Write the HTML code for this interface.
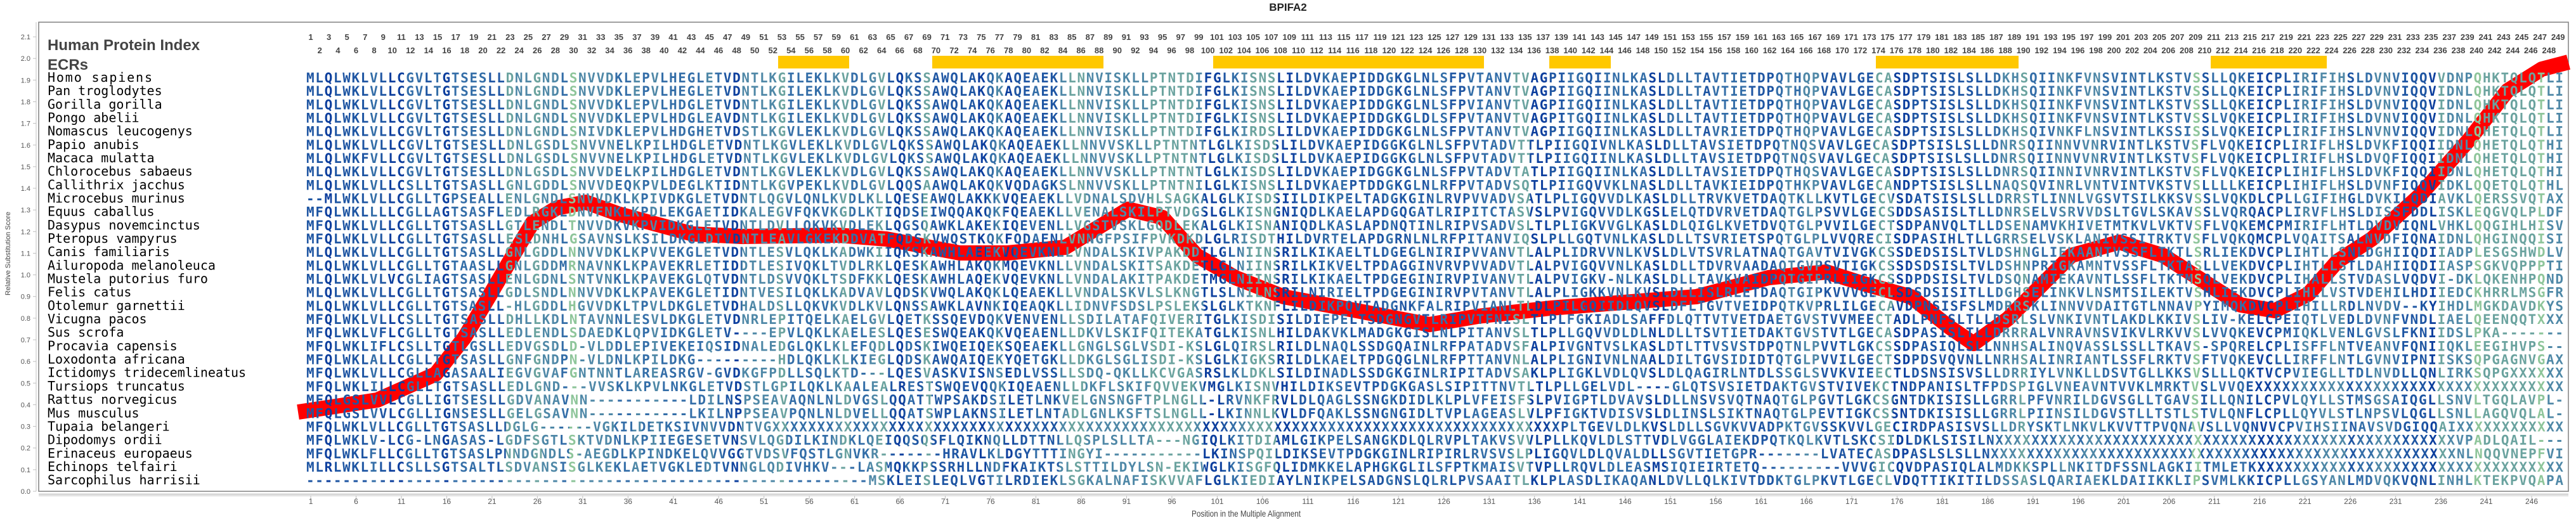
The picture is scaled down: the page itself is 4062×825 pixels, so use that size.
<!DOCTYPE html>
<html><head><meta charset="utf-8">
<style>
html,body{margin:0;padding:0;background:#fff;}
body{width:4062px;height:825px;overflow:hidden;position:relative;font-family:"Liberation Sans",sans-serif;}
.nr{position:absolute;display:flex;font:bold 13px "Liberation Sans",sans-serif;color:#444;white-space:nowrap;}
.nr span{text-align:center;flex:none;}
.o span{width:28.588px;}
.xl{position:absolute;top:784px;left:454.3px;display:flex;font:12px "Liberation Sans",sans-serif;color:#555;}
.xl span{width:71.47px;text-align:center;flex:none;}
svg{position:absolute;left:0;top:0;}
</style></head><body>
<svg width="4062" height="825" xmlns="http://www.w3.org/2000/svg">
<defs><linearGradient id="cg" gradientUnits="userSpaceOnUse" x1="483" y1="0" x2="4042" y2="0"></linearGradient></defs>
<text x="2031" y="17" text-anchor="middle" font-family="Liberation Sans" font-weight="bold" font-size="17" fill="#222">BPIFA2</text>
<rect x="61" y="35" width="3989" height="740" fill="none" stroke="#808080" stroke-width="1.5"/>
<line x1="57" y1="35" x2="57" y2="775" stroke="#c0c0c0" stroke-width="1"/>
<line x1="61" y1="779.5" x2="4050" y2="779.5" stroke="#c0c0c0" stroke-width="1.5"/>
<g stroke="#c0c0c0" stroke-width="1">
<line x1="52" x2="57" y1="775" y2="775"/><line x1="52" x2="57" y1="740.9" y2="740.9"/><line x1="52" x2="57" y1="706.7" y2="706.7"/><line x1="52" x2="57" y1="672.6" y2="672.6"/><line x1="52" x2="57" y1="638.4" y2="638.4"/><line x1="52" x2="57" y1="604.3" y2="604.3"/><line x1="52" x2="57" y1="570.2" y2="570.2"/><line x1="52" x2="57" y1="536" y2="536"/><line x1="52" x2="57" y1="501.9" y2="501.9"/><line x1="52" x2="57" y1="467.7" y2="467.7"/><line x1="52" x2="57" y1="433.6" y2="433.6"/><line x1="52" x2="57" y1="399.5" y2="399.5"/><line x1="52" x2="57" y1="365.3" y2="365.3"/><line x1="52" x2="57" y1="331.2" y2="331.2"/><line x1="52" x2="57" y1="297" y2="297"/><line x1="52" x2="57" y1="262.9" y2="262.9"/><line x1="52" x2="57" y1="228.8" y2="228.8"/><line x1="52" x2="57" y1="194.6" y2="194.6"/><line x1="52" x2="57" y1="160.5" y2="160.5"/><line x1="52" x2="57" y1="126.3" y2="126.3"/><line x1="52" x2="57" y1="92.2" y2="92.2"/><line x1="52" x2="57" y1="58.1" y2="58.1"/>
</g>
<line x1="61" y1="782" x2="4050" y2="782" stroke="#c0c0c0" stroke-width="1"/>
<g id="xt" stroke="#c0c0c0" stroke-width="1"></g>
<g font-family="Liberation Sans" font-size="11" fill="#555" text-anchor="end">
<text x="48" y="779">0.0</text><text x="48" y="744.9">0.1</text><text x="48" y="710.7">0.2</text><text x="48" y="676.6">0.3</text><text x="48" y="642.4">0.4</text><text x="48" y="608.3">0.5</text><text x="48" y="574.2">0.6</text><text x="48" y="540">0.7</text><text x="48" y="505.9">0.8</text><text x="48" y="471.7">0.9</text><text x="48" y="437.6">1.0</text><text x="48" y="403.5">1.1</text><text x="48" y="369.3">1.2</text><text x="48" y="335.2">1.3</text><text x="48" y="301">1.4</text><text x="48" y="266.9">1.5</text><text x="48" y="232.8">1.6</text><text x="48" y="198.6">1.7</text><text x="48" y="164.5">1.8</text><text x="48" y="130.3">1.9</text><text x="48" y="96.2">2.0</text><text x="48" y="62.1">2.1</text>
</g>
<text transform="translate(16,400) rotate(-90)" text-anchor="middle" font-family="Liberation Sans" font-size="11" fill="#444">Relative Substitution Score</text>
<text x="1965" y="815" text-anchor="middle" font-family="Liberation Sans" font-size="14" fill="#444" textLength="172" lengthAdjust="spacingAndGlyphs">Position in the Multiple Alignment</text>
<g fill="#ffc800">
<rect x="1227" y="88" width="112" height="20"/><rect x="1470" y="88" width="270" height="20"/><rect x="1913" y="88" width="427" height="20"/><rect x="2443" y="88" width="97" height="20"/><rect x="2958" y="88" width="225" height="20"/><rect x="3486" y="88" width="183" height="20"/>
</g>
<text x="75" y="79" font-family="Liberation Sans" font-weight="bold" font-size="24" fill="#444">Human Protein Index</text>
<text x="75" y="110" font-family="Liberation Sans" font-weight="bold" font-size="24" fill="#444">ECRs</text>
<polyline fill="none" stroke="#ff0000" stroke-width="24" stroke-linejoin="round" stroke-linecap="butt" points="470,650 595,631 687,590 732,533 771,468 809,403 840,351 878,328 924,319 977,338 1092,369 1169,373 1322,371 1398,377 1513,399 1589,399 1680,390 1779,330 1833,343 1887,403 1948,438 2024,468 2139,490 2254,512 2330,499 2445,486 2560,477 2675,468 2789,438 2880,429 2937,447 3013,468 3074,516 3112,542 3166,503 3266,403 3342,382 3411,403 3472,442 3533,481 3587,490 3640,464 3686,412 3740,377 3816,308 3893,221 3954,143 4008,109 4050,98"/>
<g font-family="DejaVu Sans Mono" font-size="20" fill="#000">
<text x="75" y="129" textLength="165" lengthAdjust="spacing">Homo sapiens</text>
<text x="75" y="150.2">Pan troglodytes</text>
<text x="75" y="171.3">Gorilla gorilla</text>
<text x="75" y="192.5">Pongo abelii</text>
<text x="75" y="213.7">Nomascus leucogenys</text>
<text x="75" y="234.9">Papio anubis</text>
<text x="75" y="256">Macaca mulatta</text>
<text x="75" y="277.2">Chlorocebus sabaeus</text>
<text x="75" y="298.4">Callithrix jacchus</text>
<text x="75" y="319.5">Microcebus murinus</text>
<text x="75" y="340.7">Equus caballus</text>
<text x="75" y="361.9">Dasypus novemcinctus</text>
<text x="75" y="383">Pteropus vampyrus</text>
<text x="75" y="404.2">Canis familiaris</text>
<text x="75" y="425.4">Ailuropoda melanoleuca</text>
<text x="75" y="446.6">Mustela putorius furo</text>
<text x="75" y="467.7">Felis catus</text>
<text x="75" y="488.9">Otolemur garnettii</text>
<text x="75" y="510.1">Vicugna pacos</text>
<text x="75" y="531.2">Sus scrofa</text>
<text x="75" y="552.4">Procavia capensis</text>
<text x="75" y="573.6">Loxodonta africana</text>
<text x="75" y="594.7">Ictidomys tridecemlineatus</text>
<text x="75" y="615.9">Tursiops truncatus</text>
<text x="75" y="637.1">Rattus norvegicus</text>
<text x="75" y="658.3">Mus musculus</text>
<text x="75" y="679.4">Tupaia belangeri</text>
<text x="75" y="700.6">Dipodomys ordii</text>
<text x="75" y="721.8">Erinaceus europaeus</text>
<text x="75" y="742.9">Echinops telfairi</text>
<text x="75" y="764.1">Sarcophilus harrisii</text>
</g>
<g id="seq" font-family="DejaVu Sans Mono" font-weight="bold" font-size="21" fill="#2d64a6">
<text x="483" y="130" textLength="3559" lengthAdjust="spacing">MLQLWKLVLLCGVLTGTSESLLDNLGNDLSNVVDKLEPVLHEGLETVDNTLKGILEKLKVDLGVLQKSSAWQLAKQKAQEAEKLLNNVISKLLPTNTDIFGLKISNSLILDVKAEPIDDGKGLNLSFPVTANVTVAGPIIGQIINLKASLDLLTAVTIETDPQTHQPVAVLGECASDPTSISLSLLDKHSQIINKFVNSVINTLKSTVSSLLQKEICPLIRIFIHSLDVNVIQQVVDNPQHKTQLQTLI</text>
<text x="483" y="151.2" textLength="3559" lengthAdjust="spacing">MLQLWKLVLLCGVLTGTSESLLDNLGNDLSNVVDKLEPVLHEGLETVDNTLKGILEKLKVDLGVLQKSSAWQLAKQKAQEAEKLLNNVISKLLPTNTDIFGLKISNSLILDVKAEPIDDGKGLNLSFPVTANVTVAGPIIGQIINLKASLDLLTAVTIETDPQTHQPVAVLGECASDPTSISLSLLDKHSQIINKFVNSVINTLKSTVSSLLQKEICPLIRIFIHSLDVNVIQQVIDNLQHKTQLQTLI</text>
<text x="483" y="172.3" textLength="3559" lengthAdjust="spacing">MLQLWKLVLLCGVLTGTSESLLDNLGNDLSNVVDKLEPVLHDGLETVDNTLKGILEKLKVDLGVLQKSSAWQLAKQKAQEAEKLLNNVISKLLPTNTDIFGLKISNSLILDVKAEPIDDGKGLNLSFPVIANVTVAGPIIGQIINLKASLDLLTAVTIETDPQTHQPVAVLGECASDPTSISLSLLDKHSQIINKFVNSVINTLKSTVSSLLQKEICPLIRIFIHSLDVNVIQQVIDNLQHKTQLQTLI</text>
<text x="483" y="193.5" textLength="3559" lengthAdjust="spacing">MLQLWKLVLLCGVLTGTSESLLDNLGNDLSNVVDKLEPVLHDGLEAVDNTLKGILEKLKVDLGVLQKSSAWQLAKQKAQEAEKLLNNVISKLLPTNTDIFGLKISNSLILDVKAEPIDDGKGLDLSFPVTANVTVAGPITGQIINLKASLDLLTAVTIETDPQTHQPVAVLGECASDPTSISLSLLDKHSQIINKFVNSVINTLKSTVSSLVQKEICPLIRIFIHSLDVNVIQQVIDNLQHKTQLQTLI</text>
<text x="483" y="214.7" textLength="3559" lengthAdjust="spacing">MLQLWKLVLLCGVLTGTSESLLDNLGNDLSNIVDKLEPVLHDGHETVDSTLKGVLEKLKVDLGVLQKSSAWQLAKQKAQEAEKLLNNVISKLLPTNTDIFGLKIRDSLILDVKAEPIDDGKGLNLSFPVTANVTVAGPIIGQIINLKASLDLLTAVRIETDPQTHQPVAVLGECASDPTSISLSLLDKHSQIVNKFLNSVINTLKSSISSLVQKEICPLIRIFIHSLNVNVIQQVIDNLQHETQLQTLI</text>
<text x="483" y="235.9" textLength="3559" lengthAdjust="spacing">MLQLWKLVLLCGVLTGTSESLLDNLGSDLSNVVNELKPILHDGLETVDNTLKGVLEKLKVDLGVLQKSSAWQLAKQKAQEAEKLLNNVVSKLLPTNTNTLGLKISDSLILDVKAEPIDGGKGLNLSFPVTADVTTLPIIGQIVNLKASLDLLTAVSIETDPQTNQSVAVLGECASDPTSISLSLLDNRSQIINNVVNRVINTLKSTVSFLVQKEICPLIRIFLHSLDVKFIQQIIDNLQHETQLQTHI</text>
<text x="483" y="257" textLength="3559" lengthAdjust="spacing">MLQLWKFVLLCGVLTGTSESLLDNLGSDLSNVVNELKPILHDGLETVDNTLKGVLEKLKVDLGVLQKSSAWQLAKQKAQEAEKLLNNVVSKLLPTNTNTLGLKISDSLILDVKAEPIDGGKGLNLSFPVTADVTTLPIIGQIINLKASLDLLTAVSIETDPQTNQSVAVLGECASDPTSISLSLLDNRSQIINNVVNRVINTLKSTVSFLVQKEICPLIRIFLHSLDVQFIQQIIDNLQHETQLQTHI</text>
<text x="483" y="278.2" textLength="3559" lengthAdjust="spacing">MLQLWKLVLLCGVLTGTSESLLDNLGSDLSNVVDELKPILHDGLETVDNTLKGVLEKLKVDLGVLQKSSAWQLAKQKAQEAEKLLNNVVSKLLPTNTNTLGLKISDSLILDVKAEPIDGGKGLNLSFPVTADVTATLPIIGQIINLKASLDLLTAVSIETDPQTHQSVAVLGECASDPTSISLSLLDNRSQIINNIVNRVINTLKSTVSFLVQKEICPLIHIFLHSLDVKFIQQIIDNLQHETQLQTHI</text>
<text x="483" y="299.4" textLength="3559" lengthAdjust="spacing">MLQLWKLVLLCSLLTGTSASLLGNLGDDLSNVVDEQKPVLDEGLKTIDNTLKGVPEKLKVDLGVLQQSAAWQLAKQKVQDAGKSLNNVVSKLLPTNTNILGLKISNSLILDVKAEPTDDGKGLNLRFPVTADVSQTLPIIGQVVKLNASLDLLTAVKIEIDPQTHKPVAVLGECANDPTSISLSLLNAQSQVINRLVNTVINTVKSTVSLLLLKEICPLIHIFLHSLDVNFIQQVIDKLQQETQLQTHL</text>
<text x="483" y="320.5" textLength="3559" lengthAdjust="spacing">--MLWKLVLLCGLLTGPSEALLENLGNDLSNVVDKLKPIVDKGLETVDNTLQGVLQNLKVDLKLLQESEAWQLAKKKVQEAEKLLVDNALSDVHLSAGKALGLKISDSIILDIKPELTADGKGINLRVPVVADVSATLPLIGQVVDLKASLDLLTRVKVETDAQTKLLKVTLGECVSDATSISLSLLDRRSTLINNLVGSVTSILKKSVSSLVQKDLCPLLGIFIHGLDVKILQDIAVKLQERSSVQTAX</text>
<text x="483" y="341.7" textLength="3559" lengthAdjust="spacing">MFQLWKLLLLCGLLAGTSASFLEDLRGKLDNVFNKLKPDLEKGAETIDKALEGVFQKVKGDLKTIQDSEIWQQAKQKFQEAEKLLVENALSKILPTVDGSLGLKISNGNIQDLKAELAPDGQGATLRIPITCTASVSLPVIGQVVDLKGSLELQTDVRVETDAQTGLPSVVLGECSDDSASISLTLLDNRSELVSRVVDSLTGVLSKAVSSLVQRQACPLIRVFLHSLDISSFDDLISKLEQGVQLPLDF</text>
<text x="483" y="362.9" textLength="3559" lengthAdjust="spacing">MFQLWKLVLLCGLLTGTSASLLGTLENDLTNVVDKVKPVIDKGLETVDNTLDVLLQKVKVDLEKLQGSQAWKLAKEKIQEVENLLVGSTVSKLGQDLEKALGLKISNANIQDLKASLAPDNQTINLRIPVSADVSLTLPLIGKVVGLKASLDLQIGLKVETDVQTGLPVVILGECTSDPANVQLTLLDSENAMVKHIVETMTKVLVKTVSFLVQKEMCPMIRIFLHTLDVDVIQNLVHKLQQGIHLHISV</text>
<text x="483" y="384" textLength="3559" lengthAdjust="spacing">MFQLWKLVLLCGLLTGTSASLLESLDNHLGSAVNSLKSILDKGLDTVDNTLEAVLGKEKDDVATFQDSKVWQSTKQKFQDAENLVNNGFPSIFPVKDKDLGLRISDTHILDVRTELAPDGRNLNLRFPITANVIQSLPLLGQTVNLKASLDLLTSVRIETSPQTGLPLVVQRECISDPASIHLTLLGRRSELVSKLANIVSSITRKTVSFLVQKQMCPLVQAITSALNVDFIQNAIDNLQHGINQQISI</text>
<text x="483" y="405.2" textLength="3559" lengthAdjust="spacing">MLQLWKLVLLCGLLTGTSASLLGNLGDDLNNVVDKLKPVVEKGLETVDNTLESVLQKLKADWKIIQKSKAWHLAEEKVQEVKNLLVNDALSKIVPAKDDTLGLNIINSRILKIKAELTLDGEGLNIRIPVVANVTLALPLIDRVVNLKVSLDLVTSVRLATNAQTGAVTVIVGKCSSDEDSISLTVLDSHNGLIEKAANTVSSFLTKTLSRLIEKDVCPLIHTLLSNLDGHIIQDIIADPLESGSHWDLV</text>
<text x="483" y="426.4" textLength="3559" lengthAdjust="spacing">MLQLWKLVLLCGLLTGTAASLLGNLGDDMRNAVNKLKPAVEKRLETIDDTLESIVQKLTVDLRKLQESKAWHLAKQKMQEVKNLLVNDALSKITSAKDETLGLNIINSRILKIKVELTPDAGGINVRVPVVADVTLALPVIGQVVNLKASLDLLTDVRVAADAQTGVPSVTIGKCSSDSDSISLTVLDSHNPRIGKAMNTVSSFLTKTASLLVEKDVCPLIHTLLSTLDAHIIQDIIASPSGKVQPPPTI</text>
<text x="483" y="447.6" textLength="3559" lengthAdjust="spacing">MLQLWKLVLVCGLIAGTSASLLENLGDNLSNTVNKLKPAVEKGLQTVDNTLDSVVQKLTSDFKKLQESKAWHLAQEKVQEVKNLLVNDALAKITPAKDETMGLNIINSRILKIKAELTPDGEGINIRVPIVANVTLALPVIGKV-NLKASLDLLTAVKVAIDPQTGIPRLIIGKCSSDPDSISLTVLDSQNAMIEKAVNTLSSFLTKTMSQLVEKDVCPLIHALLSTVDASLVQDVI-DKLQKENHPQND</text>
<text x="483" y="468.7" textLength="3559" lengthAdjust="spacing">MLQLWKLVLLCGLLTGTSASLLGDLSNDLNNVVDKLKPAVEKGLETIDNTVESILQKLKADVAVLQDSKVWQLAKQKLQEAEKLLVNDALSKVLSLKNGTLSLNILNSRILNIRIELTPDGEGINIRVPVTANVTLALPLIGKKVNLKVSLDLLISLRLETDAQTGIPKVVVGECLSDSDSISITLLDGHSELINKVLNSMTSILEKTVSHLIEKDVCPLIHLLVSTVDEHILHDIIEDCKHRRLMSGFR</text>
<text x="483" y="489.9" textLength="3559" lengthAdjust="spacing">MLQLWKLVLLCGLLTGTSASLL-HLGDDLHGVVDKLTPVLDKGLETVDHALDSLLQKVKVDLKVLQNSSAWKLAVNKIQEAQKLLIDNVFSDSLPSLEKSLGLKTKNFLILDIKPQVTADGNKFALRIPVIANLTLDLPILGQIIDLQVSLDFLTGVTVEIDPQTKVPRLILGECAVDPNSISFSLMDRRSKLINNVVDAITGTLNNAVPYIMQKDVCPLIHILLRDLNVDV--KYIHDLMGKDAVDKYS</text>
<text x="483" y="511.1" textLength="3559" lengthAdjust="spacing">MFQLWKLVLLCSLLTGTSASLLDHLLKDLNTAVNNLESVLDKGLETVDNRLEPITQELKAELGVLQETKSSQEVDQKVENVENLLSDILATAFQIVERITGLKISDISILDIEPELTSDGNGVTLRIPVTFNISLTLPLFGKIADLSAFFDLQTTVTVETDAETGVSTVVMEECTADLPNFSLTLLDSRLSLVNKIVNTLAKDLKKIVSLIV-KELCPEIQTLVEDLDVNFVNDLIAELQEENQQTXXX</text>
<text x="483" y="532.2" textLength="3559" lengthAdjust="spacing">MFQLWKLVFLCGLLTGTSASLLEDLENDLSDAEDKLQPVIDKGLETV----EPVLQKLKAELESLQESESWQEAKQKVQEAENLLDKVLSKIFQITEKATGLKISNLHILDAKVKLMADGKGISLNLPITANVSLTLPLLGQVVDLDLNLDLLTSVTIETDAKTGVSTVTLGECASDPASISLTLLDRRRALVNRAVNSVIKVLRKVVSLVVQKEVCPMIQKLVENLGVSLFKNIIDSLPKA-------</text>
<text x="483" y="553.4" textLength="3559" lengthAdjust="spacing">MFQLWKLIFLCSLLTGTLGSLLEDVGSDLD-VLDDLEPIVEKEIQSIDNALEDGLQKLKLEFQDLQDSKIWQEIQEKSQEAEKLLGNGLSGLVSDI-KSLGLQIRSLRILDLNAQLSSDGQAINLRFPATADVSFALPIVGNTVSLKASLDTLTTVSVSTDPQTNLPVVTLGKCSSDPASIQLSLLNNHSALINQVASSLSSLLTKAVS-SPQRELCPLISFFLNTVEANVFQNIIQKLEEGIHVPS--</text>
<text x="483" y="574.6" textLength="3559" lengthAdjust="spacing">MFQLWKLALLCGLLTGTSASLLGNFGNDPN-VLDNLKPILDKG---------HDLQKLKLKIEGLQDSKAWQAIQEKYQETGKLLDKGLSGLISDI-KSLGLKIGKSRILDLKAELTPDGQGLNLRFPTTANVNLALPLIGNIVNLNAALDILTGVSIDIDTQTGLPVVILGECTSDPDSVQVNLLNRHSALINRIANTLSSFLRKTVSFTVQKEVCLLIRFFLNTLGVNVIPNIISKSQPGAGNVGAX</text>
<text x="483" y="595.7" textLength="3559" lengthAdjust="spacing">MFQLWKLVLLCGLLAGASAALIEGVGVAFGNTNNTLAREASRGV-GVDKGFPDLLSQLKTD---LQESVASKVISNSEDLVSSLLSDQ-QKLLKCVGASRSLKLDKLSILDINADLSSDGKGINLRIPITADVSAKLPLIGKLVDLQVSLDLQAGIRLNTDLSSGLSVVKVIEECTLDSNSISVSLLDRRIYLVNKLLDSVTGLLKKSVSLLLQKTVCPVIEGLLTDLNVDLLQNLIRKSQPGXXXXXX</text>
<text x="483" y="616.9" textLength="3559" lengthAdjust="spacing">MFQLWKLILLCGLLTGTSASLLEDLGND---VVSKLKPVLNKGLETVDSTLGPILQKLKAALEALRESTSWQEVQQKIQEAENLLDKFLSKIFQVVEKVMGLKISNVHILDIKSEVTPDGKGASLSIPITTNVTLTLPLLGELVDL----GLQTSVSIETDAKTGVSTVIVEKCTNDPANISLTFPDSPIGLVNEAVNTVVKLMRKTVSLVVQEXXXXXXXXXXXXXXXXXXXXXXXXXXXXXXXXXX</text>
<text x="483" y="638.1" textLength="3559" lengthAdjust="spacing">MFQLGSLVVLCGLLIGTSESLLGDVANAVNN-----------LDILNSPSEAVAQNLNLDVGSLQQATTWPSAKDSILETLNKVELGNSNGFTPLNGLL-LRVNKFRVLDLQAGLSSNGKDIDLKLPLVFEISFSLPVIGPTLDVAVSLDLLNSVSVQTNAQTGLPGVTLGKCSGNTDKISISLLGRRLPFVNRILDGVSGLLTGAVSILLQNILCPVLQYLLSTMSGSAIQGLLSNVLTGQLAVPL-</text>
<text x="483" y="659.3" textLength="3559" lengthAdjust="spacing">MFQLGSLVVLCGLLIGNSESLLGELGSAVNN-----------LKILNPPSEAVPQNLNLDVELLQQATSWPLAKNSILETLNTADLGNLKSFTSLNGLL-LKINNLKVLDFQAKLSSNGNGIDLTVPLAGEASLVLPFIGKTVDISVSLDLINSLSIKTNAQTGLPEVTIGKCSSNTDKISISLLGRRLPIINSILDGVSTLLTSTLSTVLQNFLCPLLQYVLSTLNPSVLQGLLSNLLAGQVQLAL-</text>
<text x="483" y="680.4" textLength="3559" lengthAdjust="spacing">MFQLWKLVLLCGLLTGTSASLLDGLG------VGKILDETKSIVNVVDNTVGXXXXXXXXXXXXXXXXXXXXXXXXXXXXXXXXXXXXXXXXXXXXXXXXXXXXXXXXXXXXXXXXXXXXXXXXXXXXXXXXXXXXXXXXPLTGEVLDLKVSLDLLSGVKVVADPKTGVSSKVVLGECIRDPASISVSLLDRYSKTLNKVLKVVTTPVQNAVSLLVQNVVCPVIHSIINAVSVDGIQQAIXXXXXXXXXXXX</text>
<text x="483" y="701.6" textLength="3559" lengthAdjust="spacing">MFQLWKLV-LCG-LNGASAS-LGDFSGTLSKTVDNLKPIIEGESETVNSVLQGDILKINDKLQEIQQSQSFLQIKNQLLDTTNLLQSPLSLLTA---NGIQLKITDIAMLGIKPELSANGKDLQLRVPLTAKVSVVLPLLKQVLDLSTTVDLVGGLAIEKDPQTKQLKVTLSKCSIDLDKLSISILNXXXXXXXXXXXXXXXXXXXXXXXXXXXXXXXXXXXXXXXXXXXXXXXXXXXVPADLQAIL---</text>
<text x="483" y="722.8" textLength="3559" lengthAdjust="spacing">MFQLWKLFLLCGLLTGTSASLPNNDGNDLS-AEGDLKPINDKELQVVGGTVDSVFQSTLGNVKR-------HRAVLKLDGYTTTINGYI-----------LKINSPQILDIKSEVTPDGKGINLRIPIRLRVSVSLPLIGQVLDLQVALDLLSGVTIETGPR-------LVATECASDPASLSLSLLNXXXXXXXXXXXXXXXXXXXXXXXXXXXXXXXXXXXXXXXXXXXXXXXXXXXXNLNQQVNEPFVI</text>
<text x="483" y="743.9" textLength="3559" lengthAdjust="spacing">MLRLWKLILLCSLLSGTSALTLSDVANSISGLKEKLAETVGKLEDTVNNGLQDIVHKV---LASMQKKPSSRHLLNDFKAIKTSLSTTILDYLSN-EKIWGLKISGFQLIDMKKELAPHGKGLILSFPTKMAISVTVPLLRQVLDLEASMSIQIEIRTETQ---------VVVGICQVDPASIQLALMDKKSPLLNKITDFSSNLAGKIITMLETKXXXXXXXXXXXXXXXXXXXXXXXXXXXXXXXXXX</text>
<text x="483" y="765.1" textLength="3559" lengthAdjust="spacing">--------------------------------------------------------------MSKLEISLEQLVGTILRDIEKLSGKALNAFISKVVAFLGLKIEDIAYLNIKPELSADGNSLQLRLPVSAAITLKLPLASDLIKAQANLDVLLQLKIVTDDKTGLPKVTLGECLVDQTTIKITILDSSASLQARIAEKLDAIIKKLIPSVMLKKICPLLGSYANLMDVQKVQNLINHLKTEKPVQAPA</text>
</g>
</svg>
<div class="nr o" style="left:475.7px;top:51px;"><span>1</span><span>3</span><span>5</span><span>7</span><span>9</span><span>11</span><span>13</span><span>15</span><span>17</span><span>19</span><span>21</span><span>23</span><span>25</span><span>27</span><span>29</span><span>31</span><span>33</span><span>35</span><span>37</span><span>39</span><span>41</span><span>43</span><span>45</span><span>47</span><span>49</span><span>51</span><span>53</span><span>55</span><span>57</span><span>59</span><span>61</span><span>63</span><span>65</span><span>67</span><span>69</span><span>71</span><span>73</span><span>75</span><span>77</span><span>79</span><span>81</span><span>83</span><span>85</span><span>87</span><span>89</span><span>91</span><span>93</span><span>95</span><span>97</span><span>99</span><span>101</span><span>103</span><span>105</span><span>107</span><span>109</span><span>111</span><span>113</span><span>115</span><span>117</span><span>119</span><span>121</span><span>123</span><span>125</span><span>127</span><span>129</span><span>131</span><span>133</span><span>135</span><span>137</span><span>139</span><span>141</span><span>143</span><span>145</span><span>147</span><span>149</span><span>151</span><span>153</span><span>155</span><span>157</span><span>159</span><span>161</span><span>163</span><span>165</span><span>167</span><span>169</span><span>171</span><span>173</span><span>175</span><span>177</span><span>179</span><span>181</span><span>183</span><span>185</span><span>187</span><span>189</span><span>191</span><span>193</span><span>195</span><span>197</span><span>199</span><span>201</span><span>203</span><span>205</span><span>207</span><span>209</span><span>211</span><span>213</span><span>215</span><span>217</span><span>219</span><span>221</span><span>223</span><span>225</span><span>227</span><span>229</span><span>231</span><span>233</span><span>235</span><span>237</span><span>239</span><span>241</span><span>243</span><span>245</span><span>247</span><span>249</span></div>
<div class="nr o" style="left:490px;top:72px;"><span>2</span><span>4</span><span>6</span><span>8</span><span>10</span><span>12</span><span>14</span><span>16</span><span>18</span><span>20</span><span>22</span><span>24</span><span>26</span><span>28</span><span>30</span><span>32</span><span>34</span><span>36</span><span>38</span><span>40</span><span>42</span><span>44</span><span>46</span><span>48</span><span>50</span><span>52</span><span>54</span><span>56</span><span>58</span><span>60</span><span>62</span><span>64</span><span>66</span><span>68</span><span>70</span><span>72</span><span>74</span><span>76</span><span>78</span><span>80</span><span>82</span><span>84</span><span>86</span><span>88</span><span>90</span><span>92</span><span>94</span><span>96</span><span>98</span><span>100</span><span>102</span><span>104</span><span>106</span><span>108</span><span>110</span><span>112</span><span>114</span><span>116</span><span>118</span><span>120</span><span>122</span><span>124</span><span>126</span><span>128</span><span>130</span><span>132</span><span>134</span><span>136</span><span>138</span><span>140</span><span>142</span><span>144</span><span>146</span><span>148</span><span>150</span><span>152</span><span>154</span><span>156</span><span>158</span><span>160</span><span>162</span><span>164</span><span>166</span><span>168</span><span>170</span><span>172</span><span>174</span><span>176</span><span>178</span><span>180</span><span>182</span><span>184</span><span>186</span><span>188</span><span>190</span><span>192</span><span>194</span><span>196</span><span>198</span><span>200</span><span>202</span><span>204</span><span>206</span><span>208</span><span>210</span><span>212</span><span>214</span><span>216</span><span>218</span><span>220</span><span>222</span><span>224</span><span>226</span><span>228</span><span>230</span><span>232</span><span>234</span><span>236</span><span>238</span><span>240</span><span>242</span><span>244</span><span>246</span><span>248</span></div>
<div class="xl"><span>1</span><span>6</span><span>11</span><span>16</span><span>21</span><span>26</span><span>31</span><span>36</span><span>41</span><span>46</span><span>51</span><span>56</span><span>61</span><span>66</span><span>71</span><span>76</span><span>81</span><span>86</span><span>91</span><span>96</span><span>101</span><span>106</span><span>111</span><span>116</span><span>121</span><span>126</span><span>131</span><span>136</span><span>141</span><span>146</span><span>151</span><span>156</span><span>161</span><span>166</span><span>171</span><span>176</span><span>181</span><span>186</span><span>191</span><span>196</span><span>201</span><span>206</span><span>211</span><span>216</span><span>221</span><span>226</span><span>231</span><span>236</span><span>241</span><span>246</span></div>
<script>
(function(){
var lv="110111121002212022221143343325333322323222223210333342222234223410214111110230112113443333333444443001234440011122211112112122112222244001122112222200222212222111232331111114400111111111233422233233222222222251222210011232333122332111043335444444533";
var col=["#0d3f9e","#1f56a3","#346ea8","#4f88a7","#6ba39f","#8ec59a"];
var g=document.getElementById("cg"),ns="http://www.w3.org/2000/svg",n=249;
for(var i=0;i<n;i++){var c=col[+(lv[i]||2)];
 var a=document.createElementNS(ns,"stop");a.setAttribute("offset",(i/n).toFixed(5));a.setAttribute("stop-color",c);g.appendChild(a);
 var b=document.createElementNS(ns,"stop");b.setAttribute("offset",((i+1)/n).toFixed(5));b.setAttribute("stop-color",c);g.appendChild(b);}
document.getElementById("seq").setAttribute("fill","url(#cg)");
var t=document.getElementById("xt");
for(var k=1;k<=249;k+=5){var x=490+(k-1)*14.294;var l=document.createElementNS(ns,"line");
 l.setAttribute("x1",x);l.setAttribute("x2",x);l.setAttribute("y1",782);l.setAttribute("y2",787);t.appendChild(l);}
})();
</script>
</body></html>
